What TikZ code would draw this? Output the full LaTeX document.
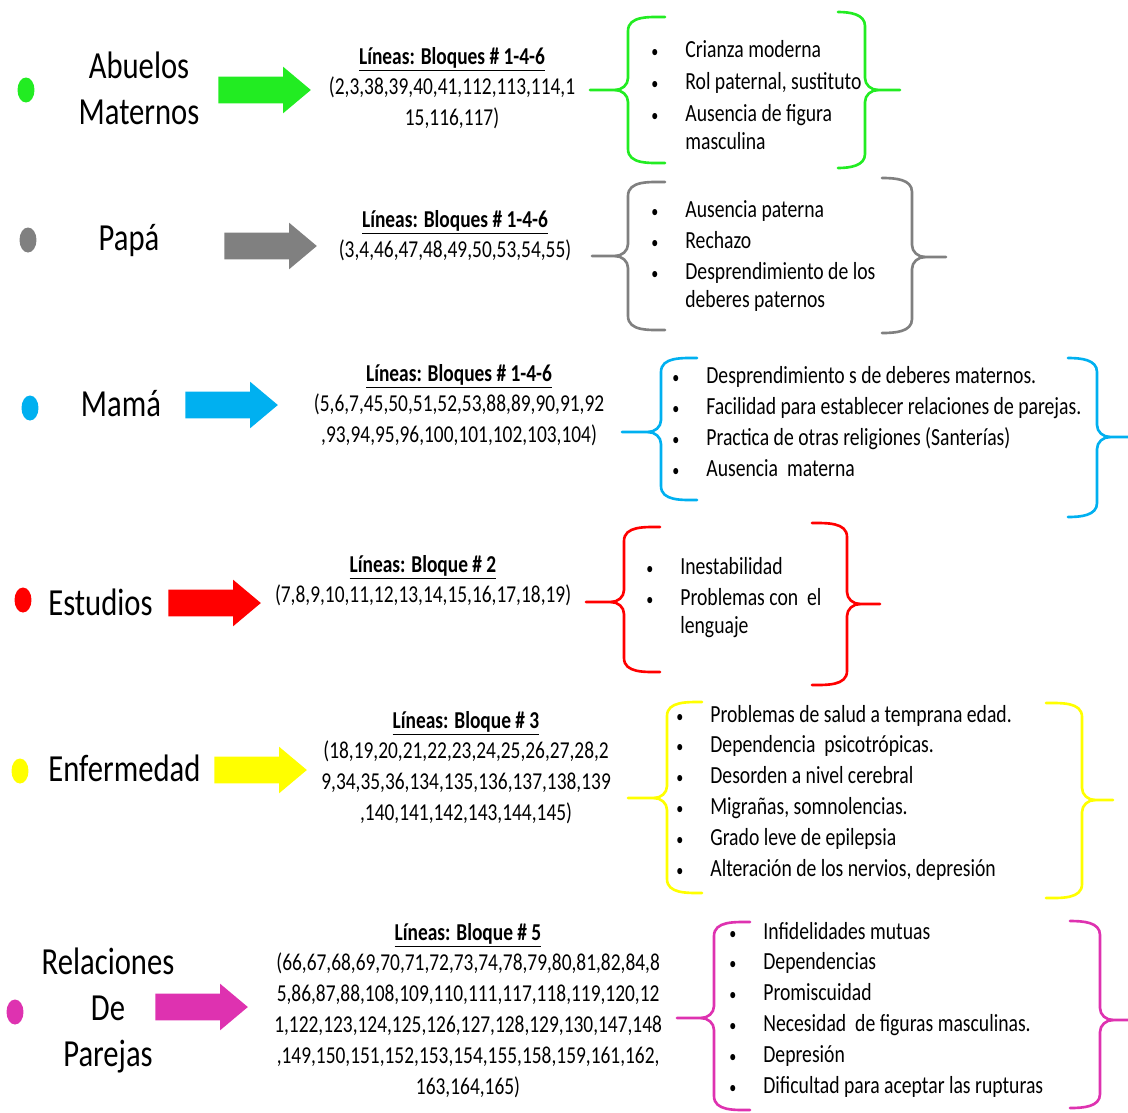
\documentclass[tikz,border=0pt]{standalone}
\usepackage{fontspec}
\setmainfont{Carlito}[FakeStretch=0.8]
\usepackage{tikz}
\usetikzlibrary{shapes.geometric,shapes.arrows}

\definecolor{grn}{RGB}{34,236,34}
\definecolor{gry}{RGB}{128,128,128}
\definecolor{blu}{RGB}{0,176,240}
\definecolor{rd}{RGB}{255,0,0}
\definecolor{ylw}{RGB}{255,255,0}
\definecolor{mgt}{RGB}{222,50,176}

\newcommand{\vin}{{\fontsize{10}{10}\selectfont\textbullet}}

% llave izquierda: color, x vertical, y arriba, y abajo, y punta, x punta, x brazos
\newcommand{\curlleft}[7]{%
  \draw[llave,#1] (#7,#3) to[out=180,in=90] (#2,#3+14) -- (#2,#5-12)
    to[out=-90,in=0] (#2-13,#5) -- (#6,#5);
  \draw[llave,#1] (#7,#4) to[out=180,in=-90] (#2,#4-14) -- (#2,#5+12)
    to[out=90,in=0] (#2-13,#5);}
% llave derecha
\newcommand{\curlright}[7]{%
  \draw[llave,#1] (#7,#3) to[out=0,in=90] (#2,#3+14) -- (#2,#5-12)
    to[out=-90,in=180] (#2+13,#5) -- (#6,#5);
  \draw[llave,#1] (#7,#4) to[out=0,in=-90] (#2,#4-14) -- (#2,#5+12)
    to[out=90,in=180] (#2+13,#5);}

\begin{document}
\begin{tikzpicture}[x=0.02cm, y=-0.02cm,
  punto/.style={ellipse, minimum width=0.34cm, minimum height=0.5cm, inner sep=0pt},
  tema/.style={anchor=base, inner sep=0pt, font=\fontsize{21.8}{26.3}\selectfont},
  flecha/.style={single arrow, anchor=tail, minimum height=1.85cm, minimum width=0.92cm,
    inner xsep=0pt, inner ysep=0.26cm, single arrow head extend=0.2cm,
    single arrow tip angle=80},
  lineas/.style={anchor=base, inner sep=0pt, font=\fontsize{13.8}{17.6}\selectfont},
  lista/.style={anchor=base west, inner sep=0pt, font=\fontsize{14}{15.8}\selectfont},
  llave/.style={line width=1.5pt, line cap=round}
]
\useasboundingbox (0,0) rectangle (1128,1112);

% Abuelos maternos
\node[punto, fill=grn] (pabuelos) at (26,90) {};
\node[tema] (abuelos) at (139,78) {\begin{tabular}[t]{@{}c@{}}Abuelos\\Maternos\end{tabular}};
\node[flecha, fill=grn] (fabuelos) at (218,90) {};
\node[lineas] (labuelos) at (452,64) {\begin{tabular}[t]{@{}c@{}}\underline{\textbf{Líneas: Bloques \# 1-4-6}}\\
  (2,3,38,39,40,41,112,113,114,1\\15,116,117)\end{tabular}};
\node[lista] (iabuelos) at (651,57) {\begin{tabular}[t]{@{}c@{\hspace{0.54cm}}l@{}}
  \vin & Crianza moderna\\[2.6pt]
  \vin & Rol paternal, sustituto\\[2.6pt]
  \vin & Ausencia de figura\\
       & masculina\end{tabular}};
\curlleft{grn}{628}{17}{163}{90}{590}{665}
\curlright{grn}{865}{12}{168}{90}{900}{838}

% Papa
\node[punto, fill=gry] (ppapa) at (28,240) {};
\node[tema] (papa) at (129,250) {Papá};
\node[flecha, fill=gry] (fpapa) at (224,246) {};
\node[lineas] (lpapa) at (455,227) {\begin{tabular}[t]{@{}c@{}}\underline{\textbf{Líneas: Bloques \# 1-4-6}}\\
  (3,4,46,47,48,49,50,53,54,55)\end{tabular}};
\node[lista] (ipapa) at (651,217) {\begin{tabular}[t]{@{}c@{\hspace{0.54cm}}l@{}}
  \vin & Ausencia paterna\\[2pt]
  \vin & Rechazo\\[2pt]
  \vin & Desprendimiento de los\\
       & deberes paternos\end{tabular}};
\curlleft{gry}{628}{182}{330}{256}{592}{665}
\curlright{gry}{912}{178}{333}{257}{946}{882}

% Mama
\node[punto, fill=blu] (pmama) at (30,408) {};
\node[tema] (mama) at (121,416) {Mamá};
\node[flecha, fill=blu] (fmama) at (185,405) {};
\node[lineas] (lmama) at (459,381) {\begin{tabular}[t]{@{}c@{}}\underline{\textbf{Líneas: Bloques \# 1-4-6}}\\
  (5,6,7,45,50,51,52,53,88,89,90,91,92\\,93,94,95,96,100,101,102,103,104)\end{tabular}};
\node[lista] (imama) at (672,383) {\begin{tabular}[t]{@{}c@{\hspace{0.54cm}}l@{}}
  \vin & Desprendimiento s de deberes maternos.\\[2pt]
  \vin & Facilidad para establecer relaciones de parejas.\\[2pt]
  \vin & Practica de otras religiones (Santerías)\\[2pt]
  \vin & Ausencia\ \ materna\end{tabular}};
\curlleft{blu}{661}{358}{500}{432}{622}{697}
\curlright{blu}{1097}{358}{517}{437}{1128}{1068}

% Estudios
\node[punto, fill=rd] (pestudios) at (23,600) {};
\node[tema, anchor=base west] (estudios) at (48,615) {Estudios};
\node[flecha, fill=rd] (festudios) at (168,603) {};
\node[lineas] (lestudios) at (423,572) {\begin{tabular}[t]{@{}c@{}}\underline{\textbf{Líneas: Bloque \# 2}}\\
  (7,8,9,10,11,12,13,14,15,16,17,18,19)\end{tabular}};
\node[lista] (iestudios) at (646,574) {\begin{tabular}[t]{@{}c@{\hspace{0.54cm}}l@{}}
  \vin & Inestabilidad\\[2.4pt]
  \vin & Problemas con\ \ el\\
       & lenguaje\end{tabular}};
\curlleft{rd}{624}{527}{672}{602}{586}{660}
\curlright{rd}{847}{523}{685}{604}{880}{812}

% Enfermedad
\node[punto, fill=ylw] (penfermedad) at (20,771) {};
\node[tema, anchor=base west] (enfermedad) at (48,781) {Enfermedad};
\node[flecha, fill=ylw] (fenfermedad) at (214,770) {};
\node[lineas] (lenfermedad) at (466,728) {\begin{tabular}[t]{@{}c@{}}\underline{\textbf{Líneas: Bloque \# 3}}\\
  (18,19,20,21,22,23,24,25,26,27,28,2\\9,34,35,36,134,135,136,137,138,139\\
  ,140,141,142,143,144,145)\end{tabular}};
\node[lista] (ienfermedad) at (676,722) {\begin{tabular}[t]{@{}c@{\hspace{0.54cm}}l@{}}
  \vin & Problemas de salud a temprana edad.\\[1.8pt]
  \vin & Dependencia\ \ psicotrópicas.\\[1.8pt]
  \vin & Desorden a nivel cerebral\\[1.8pt]
  \vin & Migrañas, somnolencias.\\[1.8pt]
  \vin & Grado leve de epilepsia\\[1.8pt]
  \vin & Alteración de los nervios, depresión\end{tabular}};
\curlleft{ylw}{667}{702}{893}{798}{628}{702}
\curlright{ylw}{1082}{703}{898}{800}{1113}{1046}

% Relaciones de parejas
\node[punto, fill=mgt] (prelaciones) at (15,1012) {};
\node[tema] (relaciones) at (108,974) {\begin{tabular}[t]{@{}c@{}}Relaciones\\De\\Parejas\end{tabular}};
\node[flecha, fill=mgt] (frelaciones) at (155,1007) {};
\node[lineas] (lrelaciones) at (468,940) {\begin{tabular}[t]{@{}c@{}}\underline{\textbf{Líneas: Bloque \# 5}}\\
  (66,67,68,69,70,71,72,73,74,78,79,80,81,82,84,8\\5,86,87,88,108,109,110,111,117,118,119,120,12\\
  1,122,123,124,125,126,127,128,129,130,147,148\\,149,150,151,152,153,154,155,158,159,161,162,\\
  163,164,165)\end{tabular}};
\node[lista] (irelaciones) at (729,939) {\begin{tabular}[t]{@{}c@{\hspace{0.54cm}}l@{}}
  \vin & Infidelidades mutuas\\[1.8pt]
  \vin & Dependencias\\[1.8pt]
  \vin & Promiscuidad\\[1.8pt]
  \vin & Necesidad\ \ de figuras masculinas.\\[1.8pt]
  \vin & Depresión\\[1.8pt]
  \vin & Dificultad para aceptar las rupturas\end{tabular}};
\curlleft{mgt}{714}{922}{1110}{1018}{677}{750}
\curlright{mgt}{1100}{921}{1108}{1020}{1128}{1070}
\end{tikzpicture}
\end{document}
